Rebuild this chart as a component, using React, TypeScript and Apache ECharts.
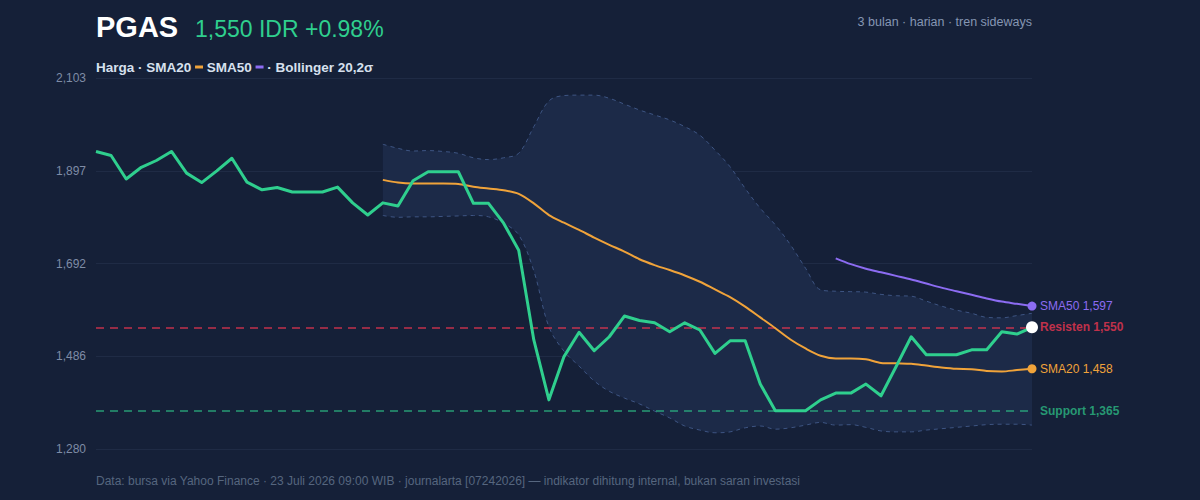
import React, { useEffect, useRef } from 'react';
import * as echarts from 'echarts';

// PGAS daily close, last ~3 months (IDR)
const closePrices = [
  1940, 1931, 1879, 1905, 1920, 1940, 1892, 1871, 1897, 1925,
  1872, 1855, 1860, 1850, 1850, 1850, 1861, 1826, 1799, 1826,
  1819, 1875, 1895, 1895, 1895, 1825, 1825, 1781, 1721, 1522,
  1389, 1485, 1539, 1498, 1529, 1575, 1565, 1560, 1540, 1560,
  1544, 1492, 1520, 1520, 1424, 1365, 1365, 1365, 1389, 1404,
  1404, 1424, 1398, 1463, 1529, 1489, 1489, 1489, 1500, 1500,
  1540, 1535, 1550,
];

// 20-day simple moving average (first value at session index 19)
const sma20Start = 19;
const sma20 = [
  1877, 1871, 1869, 1869, 1869, 1868, 1862, 1858, 1854, 1846,
  1825, 1799, 1782, 1766, 1749, 1733, 1718, 1701, 1688, 1677,
  1665, 1651, 1634, 1617, 1596, 1572, 1548, 1523, 1503, 1487,
  1481, 1481, 1479, 1471, 1470, 1469, 1465, 1461, 1458, 1457,
  1453, 1452, 1455, 1458,
];

// 50-day simple moving average (first value at session index 49)
const sma50Start = 49;
const sma50 = [1703, 1690, 1680, 1672, 1664, 1656, 1647, 1638, 1630, 1622, 1614, 1607, 1602, 1597];

// Bollinger bands (20, 2σ)
const bbStart = 19;
const bbUpper = [
  1956, 1947, 1941, 1942, 1940, 1936, 1926, 1922, 1926, 1936,
  1995, 2052, 2064, 2065, 2065, 2058, 2045, 2032, 2021, 2010,
  1995, 1976, 1943, 1906, 1858, 1814, 1777, 1733, 1681, 1633,
  1630, 1629, 1628, 1623, 1620, 1619, 1608, 1597, 1588, 1581,
  1572, 1571, 1576, 1581,
];
const bbLower = [
  1798, 1794, 1795, 1795, 1796, 1797, 1798, 1795, 1781, 1755,
  1675, 1551, 1497, 1464, 1431, 1408, 1393, 1380, 1364, 1349,
  1331, 1322, 1316, 1318, 1327, 1331, 1324, 1327, 1333, 1339,
  1333, 1334, 1328, 1320, 1318, 1318, 1322, 1325, 1328, 1331,
  1334, 1335, 1335, 1333,
];

const resistance = 1550;
const support = 1365;
const changePct = 0.98;
const yTicks = [1280, 1486, 1692, 1897, 2103];

const FONT = "'Liberation Sans', Arial, Helvetica, sans-serif";
const C = {
  bg: '#152038',
  green: '#2fcf8e',
  orange: '#f0a33a',
  purple: '#8c6cf2',
  red: '#e0354f',
  bandLine: '#3e5583',
  bandFill: '#1c2a48',
  grid: '#1f2b45',
  axisText: '#7f8ca6',
  sub: '#8596b3',
  foot: '#56667f',
  legend: '#d7e0ee',
};

const fmt = (v: number) => Math.round(v).toLocaleString('en-US');
const pad = (arr: number[], start: number) => [...Array(start).fill('-'), ...arr];
const withEndDot = (arr: (number | string)[], size: number, color: string) =>
  arr.map((v, i) =>
    i === arr.length - 1 ? { value: v, symbol: 'circle', symbolSize: size, itemStyle: { color } } : v
  );

export default function App() {
  const ref = useRef<HTMLDivElement>(null);

  useEffect(() => {
    if (!ref.current) return;
    const chart = echarts.init(ref.current, undefined, { renderer: 'svg' });
    const days = closePrices.map((_, i) => String(i + 1));
    const bandWidth = bbUpper.map((u, i) => u - bbLower[i]);
    const yMin = yTicks[0];
    const yMax = yTicks[yTicks.length - 1];

    chart.setOption({
      animation: false,
      backgroundColor: C.bg,
      textStyle: { fontFamily: FONT },
      grid: { left: 96, right: 168, top: 78, bottom: 51 },
      xAxis: {
        type: 'category',
        data: days,
        boundaryGap: false,
        axisLine: { show: false },
        axisTick: { show: false },
        axisLabel: { show: false },
        splitLine: { show: false },
      },
      yAxis: {
        type: 'value',
        min: yMin,
        max: yMax,
        interval: (yMax - yMin) / (yTicks.length - 1),
        axisLine: { show: false },
        axisTick: { show: false },
        axisLabel: {
          color: C.axisText,
          fontSize: 12,
          fontFamily: FONT,
          margin: 10,
          formatter: (v: number) => fmt(v),
        },
        splitLine: { lineStyle: { color: C.grid, width: 1 } },
      },
      graphic: [
        {
          type: 'text',
          left: 96,
          top: 12,
          style: { text: 'PGAS', fill: '#ffffff', font: `bold 29px ${FONT}` },
        },
        {
          type: 'text',
          left: 195,
          top: 17,
          style: {
            text: `${fmt(closePrices[closePrices.length - 1])} IDR +${changePct.toFixed(2)}%`,
            fill: C.green,
            font: `23px ${FONT}`,
          },
        },
        {
          type: 'text',
          right: 168,
          top: 15,
          style: { text: '3 bulan · harian · tren sideways', fill: C.sub, font: `12.5px ${FONT}` },
        },
        {
          type: 'text',
          left: 96,
          top: 60,
          style: {
            text: '{a|Harga · SMA20 }{o|}{a| SMA50 }{p|}{a| · Bollinger 20,2σ}',
            rich: {
              a: { fill: C.legend, fontWeight: 'bold', fontSize: 13.5, fontFamily: FONT },
              o: { backgroundColor: C.orange, width: 8, height: 3 },
              p: { backgroundColor: C.purple, width: 8, height: 3 },
            },
          },
        },
        {
          type: 'text',
          left: 96,
          top: 475,
          style: {
            text: 'Data: bursa via Yahoo Finance · 23 Juli 2026 09:00 WIB · journalarta [07242026] — indikator dihitung internal, bukan saran investasi',
            fill: C.foot,
            font: `12px ${FONT}`,
          },
        },
      ],
      series: [
        {
          name: 'BB lower',
          type: 'line',
          stack: 'bb',
          data: pad(bbLower, bbStart),
          smooth: 0.35,
          symbol: 'none',
          lineStyle: { color: C.bandLine, width: 1, type: [4, 4] },
          z: 1,
        },
        {
          name: 'BB upper',
          type: 'line',
          stack: 'bb',
          data: pad(bandWidth, bbStart),
          smooth: 0.35,
          symbol: 'none',
          lineStyle: { color: C.bandLine, width: 1, type: [4, 4] },
          areaStyle: { color: C.bandFill, opacity: 1 },
          z: 1,
        },
        {
          name: 'SMA20',
          type: 'line',
          data: withEndDot(pad(sma20, sma20Start), 9, C.orange),
          smooth: 0.3,
          symbol: 'none',
          showSymbol: true,
          lineStyle: { color: C.orange, width: 2 },
          itemStyle: { color: C.orange },
          endLabel: {
            show: true,
            distance: 8,
            color: C.orange,
            fontSize: 12,
            fontFamily: FONT,
            formatter: () => `SMA20 ${fmt(sma20[sma20.length - 1])}`,
          },
          z: 3,
        },
        {
          name: 'SMA50',
          type: 'line',
          data: withEndDot(pad(sma50, sma50Start), 9, C.purple),
          smooth: 0.3,
          symbol: 'none',
          showSymbol: true,
          lineStyle: { color: C.purple, width: 2 },
          itemStyle: { color: C.purple },
          endLabel: {
            show: true,
            distance: 8,
            color: C.purple,
            fontSize: 12,
            fontFamily: FONT,
            formatter: () => `SMA50 ${fmt(sma50[sma50.length - 1])}`,
          },
          z: 3,
        },
        {
          name: 'Harga',
          type: 'line',
          data: withEndDot(closePrices, 12, '#ffffff'),
          symbol: 'none',
          showSymbol: true,
          lineStyle: { color: C.green, width: 3, join: 'round' },
          itemStyle: { color: C.green },
          z: 4,
          markLine: {
            silent: true,
            symbol: 'none',
            z: 2,
            data: [
              {
                yAxis: resistance,
                lineStyle: { color: C.red, width: 1.5, type: [8, 6], opacity: 0.85 },
                label: {
                  show: true,
                  position: 'end',
                  distance: 8,
                  color: C.red,
                  fontWeight: 'bold',
                  fontSize: 12,
                  fontFamily: FONT,
                  formatter: () => `Resisten ${fmt(resistance)}`,
                },
              },
              {
                yAxis: support,
                lineStyle: { color: C.green, width: 1.5, type: [8, 6], opacity: 0.7 },
                label: {
                  show: true,
                  position: 'end',
                  distance: 8,
                  color: C.green,
                  fontWeight: 'bold',
                  fontSize: 12,
                  fontFamily: FONT,
                  formatter: () => `Support ${fmt(support)}`,
                },
              },
            ],
          },
        },
      ],
    });

    return () => chart.dispose();
  }, []);

  return (
    <div
      ref={ref}
      style={{ position: 'fixed', left: 0, top: 0, width: 1200, height: 500 }}
    />
  );
}
